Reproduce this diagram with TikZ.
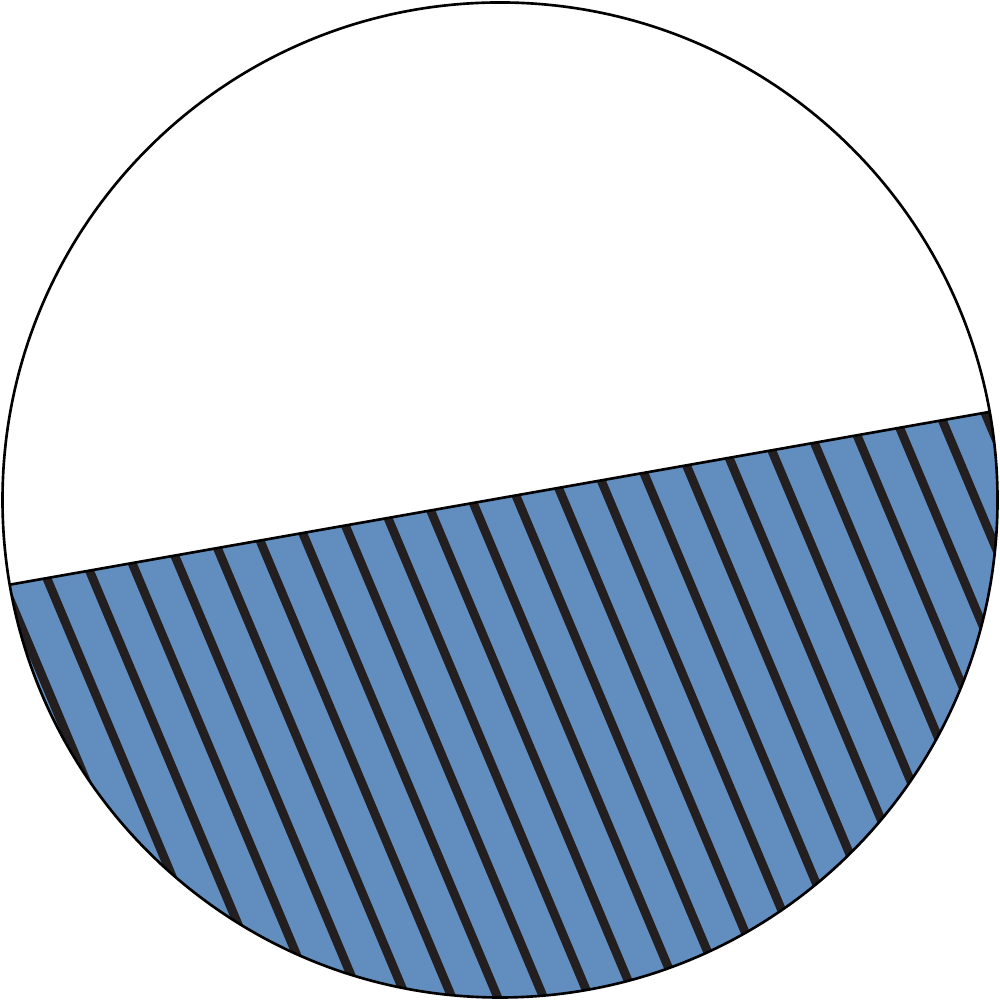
\documentclass[tikz,border=0pt]{standalone}
\usetikzlibrary{calc}
\definecolor{segblue}{RGB}{98,142,191}
\definecolor{hatchdark}{RGB}{35,31,32}
\tikzset{
  outline/.style={draw=black, line width=0.75pt},
  hatchline/.style={draw=hatchdark, line width=2.5pt},
}
\begin{document}
\begin{tikzpicture}
\useasboundingbox (0,0) rectangle (10,10);
\coordinate (O) at (5,5);
\coordinate (L) at ($(O)+(189.8:4.975)$);
\coordinate (R) at ($(O)+(370.2:4.975)$);
% segment fill
\fill[segblue] (L) arc[start angle=189.8, end angle=370.2, radius=4.975] -- cycle;
% hatch
\begin{scope}
  \clip (L) arc[start angle=189.8, end angle=370.2, radius=4.975] -- cycle;
  \foreach \k in {-4,...,23} {
    \pgfmathsetmacro{\xk}{0.98+0.458*\k}
    \draw[hatchline] (\xk-0.42*4.5,7.5) -- (\xk+0.42*3.5,-0.5);
  }
\end{scope}
% outline and chord
\draw[outline] (O) circle[radius=4.975];
\draw[outline] (L) -- (R);
\end{tikzpicture}
\end{document}
